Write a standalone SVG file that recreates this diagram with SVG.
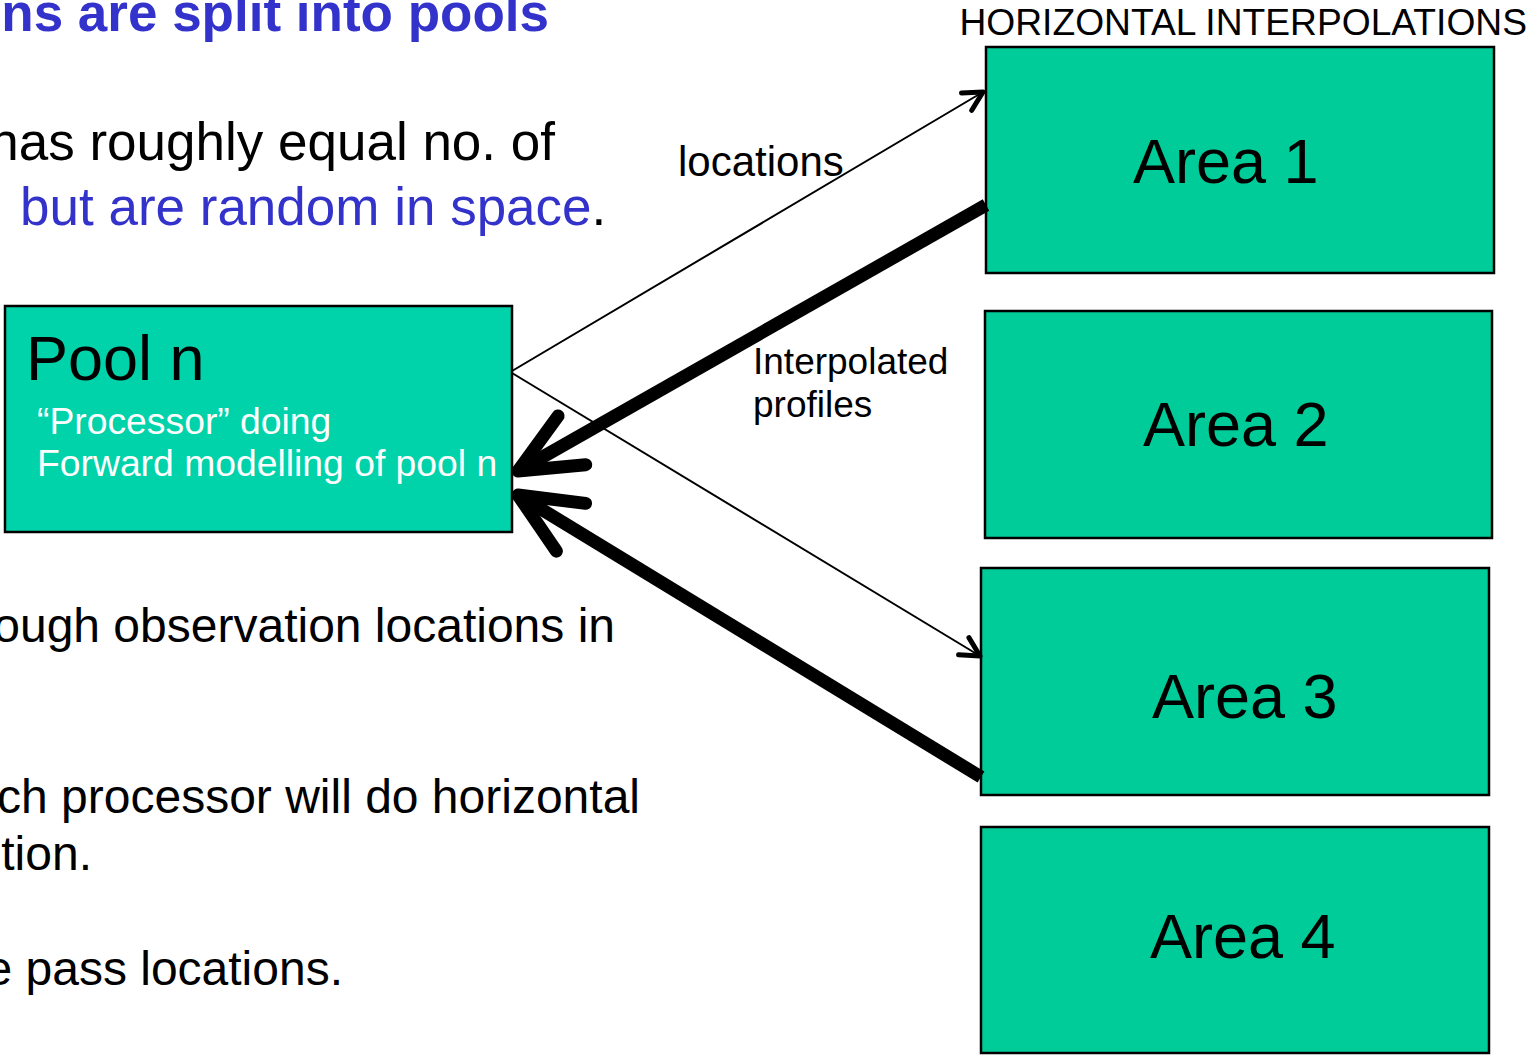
<svg xmlns="http://www.w3.org/2000/svg" width="1537" height="1059" viewBox="0 0 1537 1059">
<style>
text{font-family:"Liberation Sans",Arial,sans-serif;}
.body{font-size:48px;fill:#000;}
.top{font-size:53px;}
.blue{fill:#3333CC;}
.title{font-size:53px;font-weight:bold;fill:#3333CC;}
.area rect{fill:#00CC99;stroke:#000;stroke-width:2.5;}
.area text{font-size:63px;fill:#000;}
.thin{stroke:#000;stroke-width:2;fill:none;}
.thick{stroke:#000;stroke-width:13;fill:none;}
.lbl{font-size:37px;fill:#000;}
</style>
<defs>
<marker id="headThin" markerUnits="userSpaceOnUse" viewBox="-30 -20 40 40" refX="0" refY="0" markerWidth="40" markerHeight="40" orient="auto" overflow="visible">
<path d="M-19,-10 L0,0 L-19,10" fill="none" stroke="#000" stroke-width="5" stroke-linecap="round" stroke-linejoin="round"/>
</marker>
<marker id="headThick" markerUnits="userSpaceOnUse" viewBox="-80 -40 100 80" refX="0" refY="0" markerWidth="100" markerHeight="80" orient="auto" overflow="visible">
<path d="M-62,-28 L0,0 L-62,28" fill="none" stroke="#000" stroke-width="13" stroke-linecap="round" stroke-linejoin="round"/>
</marker>
</defs>
<rect width="1537" height="1059" fill="#fff"/>

<g id="slide-text">
<text class="title" x="549" y="31" text-anchor="end">ns are split into pools</text>
<text class="body top" x="555" y="160" text-anchor="end">has roughly equal no. of</text>
<text class="body top" x="20" y="225"><tspan class="blue">but are random in space</tspan>.</text>
<text class="body" x="615" y="642" text-anchor="end">ough observation locations in</text>
<text class="body" x="640" y="813" text-anchor="end">ch processor will do horizontal</text>
<text class="body" x="92" y="870" text-anchor="end">tion.</text>
<text class="body" x="343" y="985" text-anchor="end">e pass locations.</text>
</g>

<text id="header" x="1527" y="35" text-anchor="end" style="font-size:37.2px">HORIZONTAL INTERPOLATIONS</text>

<g id="pool">
<rect x="5" y="306" width="507" height="226" fill="#00D2AA" stroke="#000" stroke-width="2.5"/>
<text x="26" y="380" style="font-size:63px">Pool n</text>
<text x="37" y="434" style="font-size:37.3px;fill:#fff">“Processor” doing</text>
<text x="37" y="476" style="font-size:37.3px;fill:#fff">Forward modelling of pool n</text>
</g>

<g id="area1" class="area">
<rect x="986" y="47" width="508" height="226"/>
<text x="1133" y="183">Area 1</text>
</g>
<g id="area2" class="area">
<rect x="985" y="311" width="507" height="227"/>
<text x="1143" y="446">Area 2</text>
</g>
<g id="area3" class="area">
<rect x="981" y="568" width="508" height="227"/>
<text x="1152" y="718">Area 3</text>
</g>
<g id="area4" class="area">
<rect x="981" y="827" width="508" height="226"/>
<text x="1150" y="958">Area 4</text>
</g>

<g id="connectors">
<line class="thin" x1="512" y1="371" x2="983" y2="92" marker-end="url(#headThin)"/>
<line class="thin" x1="512" y1="373" x2="980" y2="656" marker-end="url(#headThin)"/>
<line class="thick" x1="986" y1="205" x2="518" y2="471" marker-end="url(#headThick)"/>
<line class="thick" x1="981" y1="777" x2="518" y2="495" marker-end="url(#headThick)"/>
<text class="lbl" x="678" y="176" style="font-size:42px">locations</text>
<text class="lbl" x="753" y="374">Interpolated</text>
<text class="lbl" x="753" y="417">profiles</text>
</g>
</svg>
